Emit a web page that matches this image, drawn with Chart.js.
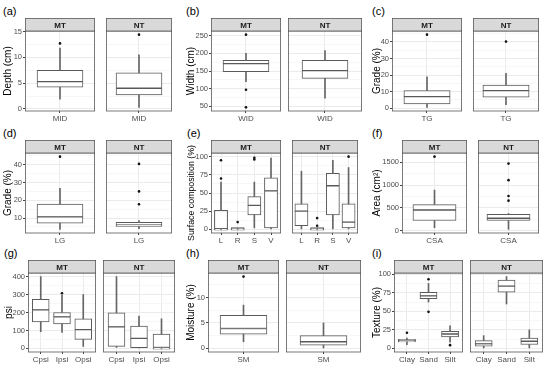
<!DOCTYPE html>
<html>
<head>
<meta charset="utf-8">
<script src="https://cdn.jsdelivr.net/npm/chart.js@4.4.1/dist/chart.umd.min.js"></script>
<style>
  body { margin: 0; background: #fff; width: 550px; height: 366px; position: relative; overflow: hidden; font-family: "Liberation Sans", Arial, sans-serif; }
  canvas { position: absolute; }
  .lab { position: absolute; font-size: 11px; line-height: 13px; color: #000; }
</style>
</head>
<body>
<script>
// each box: [lower whisker, q1, median, q3, upper whisker]; outliers per category
const aCats = ['MID'];
const aTicks = [0, 5, 10, 15];
const aMT = [[1.9, 4.2, 5.3, 7.5, 11.8]];
const aNT = [[0.3, 2.7, 4.0, 7.0, 10.5]];
const aMTout = [[12.7]];
const aNTout = [[14.4]];

const bCats = ['WID'];
const bTicks = [50, 100, 150, 200, 250];
const bMT = [[120, 148, 171, 180, 200]];
const bNT = [[73, 129, 151, 180, 208]];
const bMTout = [[253, 97, 47]];
const bNTout = [[]];

const cCats = ['TG'];
const cTicks = [0, 10, 20, 30, 40];
const cMT = [[0.5, 2.6, 7.0, 10.6, 19.0]];
const cNT = [[2.2, 6.6, 10.6, 14.0, 21.0]];
const cMTout = [[44.4]];
const cNTout = [[40.2]];

const dCats = ['LG'];
const dTicks = [10, 20, 30, 40];
const dMT = [[3.6, 7.1, 10.6, 17.8, 26.7]];
const dNT = [[4.0, 5.3, 6.0, 7.5, 8.5]];
const dMTout = [[44.6]];
const dNTout = [[17.8, 25, 40.5]];

const eCats = ['L', 'R', 'S', 'V'];
const eTicks = [0, 25, 50, 75, 100];
const eMT = [[0, 0, 0.8, 26, 65], [0, 0, 0.3, 1, 1], [2, 20, 33, 45, 65], [0.5, 2, 53, 71, 98]];
const eNT = [[0, 5, 25, 35, 80], [0, 0, 0.3, 1, 1], [0, 20, 60, 77, 95], [0, 2, 10, 35, 85]];
const eMTout = [[70, 95], [10], [96, 98.5], []];
const eNTout = [[], [5, 15.5], [], [100]];

const fCats = ['CSA'];
const fTicks = [0, 500, 1000, 1500];
const fMT = [[69, 228, 456, 574, 890]];
const fNT = [[35, 228, 276, 360, 380]];
const fMTout = [[1617]];
const fNTout = [[660, 760, 1106, 1465]];

const gCats = ['Cpsi', 'Ipsi', 'Opsi'];
const gTicks = [0, 100, 200, 300, 400];
const gMT = [[93, 148, 215, 274, 400], [89, 137, 176, 200, 296], [11, 50, 105, 165, 300]];
const gNT = [[5, 11, 120, 198, 400], [0, 4, 56, 124, 180], [0, 0, 5, 80, 165]];
const gMTout = [[], [307], []];
const gNTout = [[], [], []];

const hCats = ['SM'];
const hTicks = [0, 5, 10];
const hMT = [[1.3, 2.8, 3.9, 6.5, 8.5]];
const hNT = [[0, 0.65, 1.3, 2.5, 5.0]];
const hMTout = [[14.1]];
const hNTout = [[]];

const iCats = ['Clay', 'Sand', 'Silt'];
const iTicks = [0, 25, 50, 75, 100];
const iMT = [[5, 8.8, 10.1, 11.9, 14], [62.5, 67, 70.9, 75.8, 87.7], [8.4, 15.4, 19.4, 22.9, 30.4]];
const iNT = [[0, 3.1, 6.2, 10.6, 17.2], [59.9, 75.8, 84.1, 92.1, 96.9], [0, 5.3, 9.7, 14.1, 25]];
const iMTout = [[21.1], [93.4, 49.3], [4.4]];
const iNTout = [[], [], []];

// layout
const STRIP = 13, XH = 13, GAP = 3;
const rows = [
  { top: 18, bottom: 111, label: 5 },
  { top: 140, bottom: 233, label: 127 },
  { top: 260, bottom: 352, label: 247 }
];
const panels = [
  { tag: '(a)', row: 0, left: 2, plotL: 25, right: 175, title: 'Depth (cm)', cats: aCats, ticks: aTicks, mt: aMT, nt: aNT, mtOut: aMTout, ntOut: aNTout },
  { tag: '(b)', row: 0, left: 185, plotL: 211, right: 361, title: 'Width (cm)', cats: bCats, ticks: bTicks, mt: bMT, nt: bNT, mtOut: bMTout, ntOut: bNTout },
  { tag: '(c)', row: 0, left: 371, plotL: 392, right: 543, title: 'Grade (%)', cats: cCats, ticks: cTicks, mt: cMT, nt: cNT, mtOut: cMTout, ntOut: cNTout },
  { tag: '(d)', row: 1, left: 2, plotL: 25, right: 175, title: 'Grade (%)', cats: dCats, ticks: dTicks, mt: dMT, nt: dNT, mtOut: dMTout, ntOut: dNTout },
  { tag: '(e)', row: 1, left: 186, plotL: 211, right: 361, title: 'Surface composition (%)', titleSize: 8.8, cats: eCats, ticks: eTicks, mt: eMT, nt: eNT, mtOut: eMTout, ntOut: eNTout },
  { tag: '(f)', row: 1, left: 371, plotL: 402, right: 543, title: 'Area (cm²)', cats: fCats, ticks: fTicks, mt: fMT, nt: fNT, mtOut: fMTout, ntOut: fNTout },
  { tag: '(g)', row: 2, left: 3, plotL: 28, right: 175, title: 'psi', cats: gCats, ticks: gTicks, mt: gMT, nt: gNT, mtOut: gMTout, ntOut: gNTout },
  { tag: '(h)', row: 2, left: 185, plotL: 208, right: 361, title: 'Moisture (%)', cats: hCats, ticks: hTicks, mt: hMT, nt: hNT, mtOut: hMTout, ntOut: hNTout },
  { tag: '(i)', row: 2, left: 371, plotL: 394, right: 543, title: 'Texture (%)', cats: iCats, ticks: iTicks, mt: iMT, nt: iNT, mtOut: iMTout, ntOut: iNTout }
];

const FONT = '"Liberation Sans", Arial, sans-serif';
Chart.defaults.font.family = FONT;

// strip header + panel border
const facetDeco = {
  id: 'facetDeco',
  afterDatasetsDraw(chart, args, opts) {
    const { ctx, chartArea: a } = chart;
    ctx.save();
    ctx.strokeStyle = '#595959';
    ctx.lineWidth = 0.8;
    ctx.strokeRect(a.left + 0.4, a.top, a.right - a.left - 0.8, a.bottom - a.top);
    ctx.fillStyle = '#d9d9d9';
    ctx.fillRect(a.left + 0.4, a.top - STRIP + 0.5, a.right - a.left - 0.8, STRIP - 0.5);
    ctx.strokeRect(a.left + 0.4, a.top - STRIP + 0.5, a.right - a.left - 0.8, STRIP - 0.5);
    ctx.fillStyle = '#1a1a1a';
    ctx.font = 'bold 8px ' + FONT;
    ctx.textAlign = 'center';
    ctx.textBaseline = 'middle';
    ctx.fillText(opts.label, (a.left + a.right) / 2, a.top - STRIP / 2 + 0.8);
    ctx.restore();
  }
};

function limits(p) {
  const vals = [p.mt, p.nt, p.mtOut, p.ntOut].flat(2);
  const lo = Math.min(...vals), hi = Math.max(...vals);
  const r = hi - lo;
  return [lo - 0.05 * r, hi + 0.05 * r];
}

function facet(p, side) {
  const row = rows[p.row];
  const n = p.cats.length;
  const w = (p.right - p.plotL - GAP) / 2;
  const stats = side === 0 ? p.mt : p.nt;
  const outs = side === 0 ? p.mtOut : p.ntOut;
  const left = side === 0 ? p.left : p.plotL + w + GAP;
  const width = side === 0 ? p.plotL + w - p.left : w;
  const yW = side === 0 ? p.plotL - p.left : 0;
  const height = row.bottom - row.top + XH;
  const [ymin, ymax] = limits(p);

  const majors = p.ticks;
  const minors = [];
  for (let k = 0; k < majors.length - 1; k++) minors.push((majors[k] + majors[k + 1]) / 2);
  const step = majors[1] - majors[0];
  minors.push(majors[0] - step / 2, majors[majors.length - 1] + step / 2);
  const allTicks = majors.concat(minors.filter(v => v > ymin && v < ymax)).sort((x, y) => x - y);

  const cv = document.createElement('canvas');
  cv.width = Math.round(width);
  cv.height = height;
  cv.style.left = left + 'px';
  cv.style.top = row.top + 'px';
  document.body.appendChild(cv);

  const boxPx = 0.75 * w / (n + 0.2);
  const outPts = [];
  outs.forEach((arr, i) => arr.forEach(v => outPts.push({ x: i + 1, y: v })));

  new Chart(cv, {
    type: 'bar',
    data: {
      datasets: [
        { data: stats.map((s, i) => ({ x: i + 1, y: [s[0], s[1]] })), barThickness: 1, backgroundColor: '#666' },
        { data: stats.map((s, i) => ({ x: i + 1, y: [s[3], s[4]] })), barThickness: 1, backgroundColor: '#666' },
        { data: stats.map((s, i) => ({ x: i + 1, y: [s[1], s[2]] })), barThickness: boxPx, backgroundColor: '#fff', borderColor: '#5a5a5a', borderWidth: 1, borderSkipped: false, minBarLength: 1.5 },
        { data: stats.map((s, i) => ({ x: i + 1, y: [s[2], s[3]] })), barThickness: boxPx, backgroundColor: '#fff', borderColor: '#5a5a5a', borderWidth: 1, borderSkipped: false, minBarLength: 1.5 },
        { type: 'scatter', data: outPts, pointRadius: 1.3, backgroundColor: '#111', borderWidth: 0 }
      ]
    },
    options: {
      responsive: false,
      animation: false,
      events: [],
      datasets: { bar: { grouped: false } },
      layout: { padding: { top: STRIP, left: 0, right: 0, bottom: 0 } },
      plugins: {
        legend: { display: false },
        tooltip: { enabled: false },
        facetDeco: { label: side === 0 ? 'MT' : 'NT' }
      },
      scales: {
        x: {
          type: 'linear',
          min: 0.4,
          max: n + 0.6,
          offset: false,
          afterBuildTicks(s) { s.ticks = p.cats.map((c, i) => ({ value: i + 1 })); },
          afterFit(s) { s.height = XH; },
          ticks: { callback: v => p.cats[v - 1], font: { size: 8 }, color: '#4d4d4d', padding: 1, autoSkip: false, maxRotation: 0 },
          grid: { offset: false, color: '#ebebeb', tickLength: 2, tickColor: '#444' },
          border: { display: false }
        },
        y: {
          min: ymin,
          max: ymax,
          afterBuildTicks(s) { s.ticks = allTicks.map(v => ({ value: v })); },
          afterFit(s) { s.width = yW; },
          ticks: {
            display: side === 0,
            autoSkip: false,
            font: { size: 7.5 },
            color: '#4d4d4d',
            padding: 1,
            callback: v => majors.includes(v) ? String(v) : ''
          },
          grid: {
            color: c => majors.includes(c.tick.value) ? '#ebebeb' : '#f4f4f4',
            lineWidth: c => majors.includes(c.tick.value) ? 1 : 0.7,
            drawTicks: side === 0,
            tickLength: 2,
            tickColor: c => majors.includes(c.tick.value) ? '#444' : 'rgba(0,0,0,0)'
          },
          border: { display: false },
          title: { display: side === 0, text: p.title, font: { size: p.titleSize || 10 }, color: '#000', padding: { top: 0, bottom: 1 } }
        }
      }
    },
    plugins: [facetDeco]
  });
}

panels.forEach(p => {
  const d = document.createElement('div');
  d.className = 'lab';
  d.textContent = p.tag;
  d.style.left = (p.left + 1) + 'px';
  d.style.top = rows[p.row].label + 'px';
  document.body.appendChild(d);
  facet(p, 0);
  facet(p, 1);
});
</script>
</body>
</html>
